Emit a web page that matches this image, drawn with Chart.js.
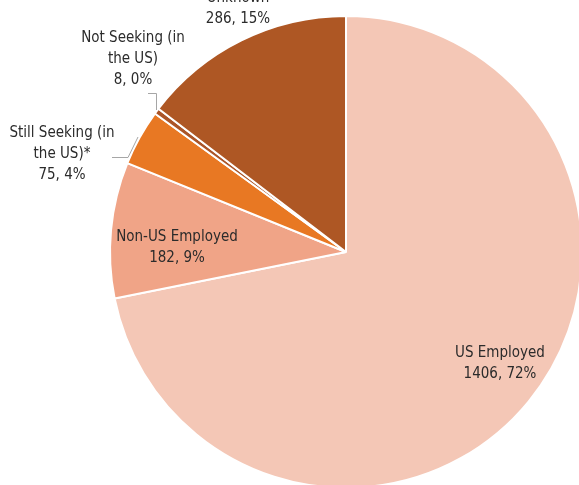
<!DOCTYPE html>
<html><head><meta charset="utf-8">
<script src="https://cdn.jsdelivr.net/npm/chart.js@4.4.0/dist/chart.umd.min.js"></script>
<style>
html,body{margin:0;padding:0;width:579px;height:485px;overflow:hidden;background:#fff;}
#wrap{position:absolute;left:0;top:0;width:700px;height:600px;}
</style></head><body>
<div id="wrap"><canvas id="c" width="700" height="600"></canvas></div>
<script>
const categories = ["US Employed", "Non-US Employed", "Still Seeking (in the US)*", "Not Seeking (in the US)", "Unknown"];
const counts = [1406, 182, 75, 8, 286];
const percents = ["72%", "9%", "4%", "0%", "15%"];
const colors = ["#F4C7B6", "#F0A487", "#E87823", "#AB5528", "#AE5724"];

const FONT = '"Liberation Sans Narrow", "Arial Narrow", "DejaVu Sans Condensed", sans-serif';
const labelSpec = [
  {lines:["US Employed", counts[0]+", "+percents[0]], x:500, y:353},
  {lines:["Non-US Employed", counts[1]+", "+percents[1]], x:177, y:237},
  {lines:["Still Seeking (in","the US)*", counts[2]+", "+percents[2]], x:62, y:133},
  {lines:["Not Seeking (in","the US)", counts[3]+", "+percents[3]], x:133, y:38},
  {lines:["Unknown", counts[4]+", "+percents[4]], x:238, y:-2}
];

const labelPlugin = {
  id:'labels',
  afterDraw(chart){
    const ctx = chart.ctx;
    ctx.save();
    // leader lines
    ctx.strokeStyle = '#A6A6A6';
    ctx.lineWidth = 1;
    ctx.beginPath();
    ctx.moveTo(156.5,110); ctx.lineTo(156.5,93.5); ctx.lineTo(148,93.5);
    ctx.moveTo(138,137); ctx.lineTo(128,157.5); ctx.lineTo(112,157.5);
    ctx.stroke();
    ctx.fillStyle = '#2b2b2b';
    ctx.font = '15px ' + FONT;
    ctx.textAlign = 'center';
    ctx.textBaseline = 'middle';
    labelSpec.forEach(s=>{
      s.lines.forEach((t,i)=>ctx.fillText(t, s.x, s.y + i*21));
    });
    ctx.restore();
  }
};

new Chart(document.getElementById('c'), {
  type:'pie',
  data:{
    labels: categories,
    datasets:[{data: counts, backgroundColor: colors, borderColor:'#ffffff', borderWidth:2}]
  },
  options:{
    responsive:false,
    animation:false,
    layout:{padding:{left:109, top:15, right:117, bottom:111}},
    plugins:{legend:{display:false}, tooltip:{enabled:false}}
  },
  plugins:[labelPlugin]
});
</script>
</body></html>
